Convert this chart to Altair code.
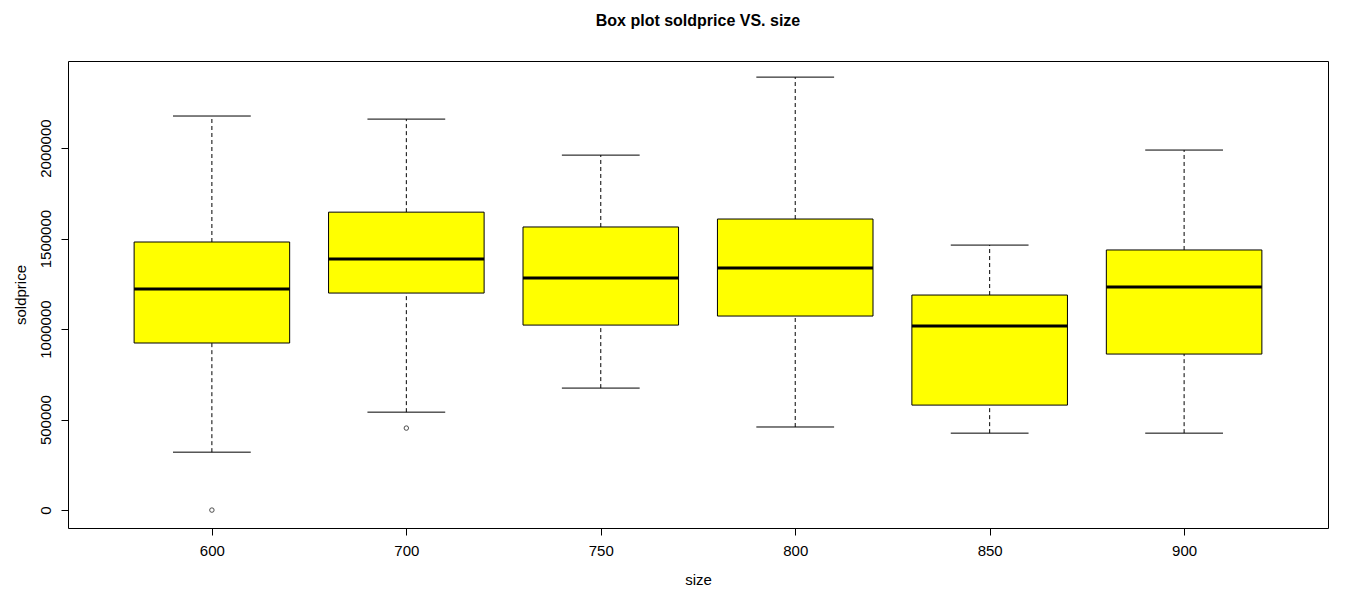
import altair as alt
import pandas as pd

sizes = ["600", "700", "750", "800", "850", "900"]
low = [320000, 541000, 674000, 459000, 425000, 425000]
q1 = [923000, 1199000, 1022000, 1072000, 580000, 862000]
median = [1221000, 1387000, 1282000, 1337000, 1017000, 1232000]
q3 = [1481000, 1646000, 1564000, 1608000, 1188000, 1437000]
high = [2177000, 2160000, 1961000, 2392000, 1464000, 1989000]

outlier_size = ["600", "700"]
outlier_price = [0, 453000]

df = pd.DataFrame({"size": sizes, "low": low, "q1": q1, "median": median,
                   "q3": q3, "high": high})
df["pos"] = range(1, len(sizes) + 1)
out = pd.DataFrame({"size": outlier_size, "price": outlier_price})
out["pos"] = [sizes.index(s) + 1 for s in outlier_size]

label_expr = "[" + ",".join("'%s'" % s for s in sizes) + "][datum.value - 1]"
xs = alt.Scale(domain=[0.26, 6.74], nice=False, zero=False)
ys = alt.Scale(domain=[-99000, 2481000], nice=False)
xax = alt.Axis(values=list(range(1, 7)), labelExpr=label_expr, grid=False,
               domain=False, tickColor="black", labelColor="black",
               labelFontSize=15, titleFontSize=15, titleFontWeight="normal",
               titleColor="black", labelFont="Liberation Sans",
               titleFont="Liberation Sans", tickSize=7, labelPadding=8,
               titlePadding=14)
yax = alt.Axis(values=[0, 500000, 1000000, 1500000, 2000000], grid=False,
               domain=False, tickColor="black", labelColor="black",
               labelAngle=-90, labelAlign="center", labelBaseline="bottom",
               labelFontSize=15, titleFontSize=15, titleFontWeight="normal",
               titleColor="black", labelFont="Liberation Sans",
               titleFont="Liberation Sans", tickSize=7, labelPadding=8,
               titlePadding=10, format="d")

base = alt.Chart(df).transform_calculate(
    left="datum.pos - 0.4", right="datum.pos + 0.4",
    cl="datum.pos - 0.2", cr="datum.pos + 0.2")

whisk_lo = base.mark_rule(color="black", strokeDash=[4, 3]).encode(
    x=alt.X("pos:Q", scale=xs, axis=xax, title="size"),
    y=alt.Y("low:Q", scale=ys, axis=yax, title="soldprice"),
    y2="q1:Q")
whisk_hi = base.mark_rule(color="black", strokeDash=[4, 3]).encode(
    x="pos:Q", y="q3:Q", y2="high:Q")
cap_lo = base.mark_rule(color="black").encode(x="cl:Q", x2="cr:Q", y="low:Q")
cap_hi = base.mark_rule(color="black").encode(x="cl:Q", x2="cr:Q", y="high:Q")
box = base.mark_rect(color="yellow", stroke="black", strokeWidth=1).encode(
    x="left:Q", x2="right:Q", y="q1:Q", y2="q3:Q")
med = base.mark_rule(color="black", strokeWidth=3).encode(
    x="left:Q", x2="right:Q", y="median:Q")
pts = alt.Chart(out).mark_point(shape="circle", size=20, color="black",
                                 strokeWidth=1).encode(x="pos:Q", y="price:Q")

chart = (whisk_lo + whisk_hi + cap_lo + cap_hi + box + med + pts).properties(
    width=1260, height=467, background="white",
    title=alt.TitleParams("Box plot soldprice VS. size", fontSize=16,
                          font="Liberation Sans", fontWeight="bold",
                          color="black", offset=32)
).configure_view(stroke="black", strokeWidth=1)

chart.save("out.html", embed_options={"renderer": "svg", "actions": False})
